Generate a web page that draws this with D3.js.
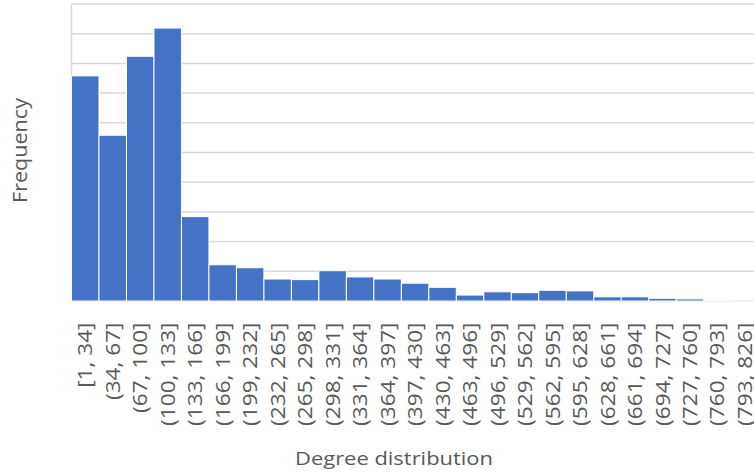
<!DOCTYPE html>
<html>
<head>
<meta charset="utf-8">
<script src="https://cdn.jsdelivr.net/npm/d3@7"></script>
<style>
  html, body { margin: 0; padding: 0; background: #fff; }
  svg { display: block; }
  text { font-family: "Open Sans", "Noto Sans", sans-serif; fill: #595959; }
</style>
</head>
<body>
<svg id="chart" width="754" height="474"></svg>
<script>
// ---- data ----
const categories = ["[1, 34]", "(34, 67]", "(67, 100]", "(100, 133]", "(133, 166]", "(166, 199]",
  "(199, 232]", "(232, 265]", "(265, 298]", "(298, 331]", "(331, 364]", "(364, 397]", "(397, 430]",
  "(430, 463]", "(463, 496]", "(496, 529]", "(529, 562]", "(562, 595]", "(595, 628]", "(628, 661]",
  "(661, 694]", "(694, 727]", "(727, 760]", "(760, 793]", "(793, 826]"];
const frequency = [758, 558, 824, 919, 284, 122, 112, 74, 72, 102, 81, 74, 60, 46, 20, 31, 28, 36, 34,
  14, 14, 9, 7, 3, 1];
const yTicks = [0, 100, 200, 300, 400, 500, 600, 700, 800, 900, 1000];
const xTitle = "Degree distribution";
const yTitle = "Frequency";

// ---- layout ----
const svg = d3.select("#chart");
const plotLeft = 71.5, plotRight = 758.7, plotTop = 4, plotBottom = 301;

const x = d3.scaleBand().domain(categories).range([plotLeft, plotRight]).padding(0);
const y = d3.scaleLinear().domain([0, 1000]).range([plotBottom, plotTop]);

// gridlines
svg.append("g").selectAll("line").data(yTicks).join("line")
  .attr("x1", plotLeft).attr("x2", 754)
  .attr("y1", d => y(d)).attr("y2", d => y(d))
  .attr("stroke", "#d9d9d9").attr("stroke-width", 1.5);

// left axis line
svg.append("line")
  .attr("x1", plotLeft).attr("x2", plotLeft)
  .attr("y1", y(1000)).attr("y2", y(0))
  .attr("stroke", "#d9d9d9").attr("stroke-width", 1.5);

// bars
svg.append("g").selectAll("rect").data(frequency).join("rect")
  .attr("x", (d, i) => x(categories[i]))
  .attr("width", x.bandwidth())
  .attr("y", d => y(d))
  .attr("height", d => y(0) - y(d))
  .attr("fill", "#4472C4")
  .attr("stroke", "#ffffff")
  .attr("stroke-width", 1);

// x tick labels (rotated)
svg.append("g").selectAll("text").data(categories).join("text")
  .attr("transform", d => `translate(${x(d) + x.bandwidth() / 2},322.5) rotate(-90)`)
  .attr("text-anchor", "end")
  .attr("dy", "0.36em")
  .style("font-size", "19.5px")
  .text(d => d)
  .each(function () {
    const L = this.getComputedTextLength();
    d3.select(this).attr("textLength", L * 1.16).attr("lengthAdjust", "spacingAndGlyphs");
  });

// axis titles
svg.append("text")
  .attr("x", 394).attr("y", 465)
  .attr("text-anchor", "middle")
  .style("font-size", "18px")
  .attr("textLength", 198).attr("lengthAdjust", "spacingAndGlyphs")
  .text(xTitle);

svg.append("text")
  .attr("transform", "translate(26.7,150.5) rotate(-90)")
  .attr("text-anchor", "middle")
  .style("font-size", "19.5px")
  .attr("textLength", 105).attr("lengthAdjust", "spacingAndGlyphs")
  .text(yTitle);
</script>
</body>
</html>
